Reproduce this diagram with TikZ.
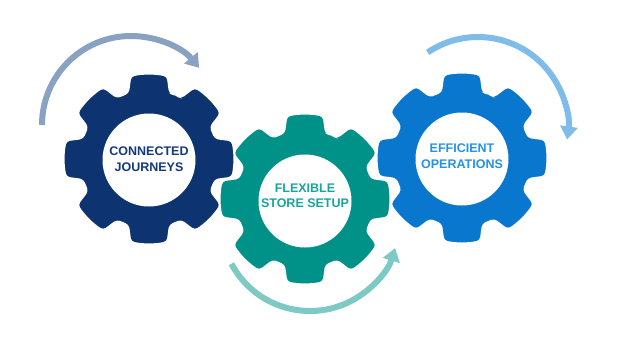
\documentclass[tikz,border=0pt]{standalone}
\usepackage{fontspec}
\setmainfont{Liberation Sans}
\usetikzlibrary{arrows.meta}
\definecolor{gNavy}{HTML}{0D3470}
\definecolor{gTeal}{HTML}{009289}
\definecolor{gBlue}{HTML}{0A77CF}
\definecolor{tNavy}{HTML}{15397A}
\definecolor{tTeal}{HTML}{17A59C}
\definecolor{tBlue}{HTML}{2592E6}
\definecolor{aGray}{HTML}{8AA2C2}
\definecolor{aTeal}{HTML}{7DC9C4}
\definecolor{aBlue}{HTML}{80BCEA}
\tikzset{
  gearbody/.style={draw=white, line width=1.5pt, rounded corners=3.5pt},
  hub/.style={circle, fill=white, minimum size=93pt, inner sep=0pt},
  hubtext/.style={align=center, font=\fontsize{12.5}{15.5}\selectfont\bfseries},
  turn/.style={line width=6pt, -{Triangle[width=17pt,length=13pt]}},
}
\newcommand{\gearpath}{%
  (67.5:69pt)
  \foreach \i in {0,...,7}{
    arc[start angle={67.5+45*\i}, end angle={72.5+45*\i}, radius=69pt]
    -- ({77.5+45*\i}:85pt)
    arc[start angle={77.5+45*\i}, end angle={102.5+45*\i}, radius=85pt]
    -- ({107.5+45*\i}:69pt)
    arc[start angle={107.5+45*\i}, end angle={112.5+45*\i}, radius=69pt]
  } -- cycle}
\begin{document}
\begin{tikzpicture}[x=1pt,y=1pt]
\useasboundingbox (0,0) rectangle (620,349);
\fill[white] (0,0) rectangle (620,349);
% arrows
\coordinate (c1) at (131,224);
\coordinate (c2) at (310,127);
\coordinate (c3) at (478,222);
\draw[turn, aGray] ([shift={(180:89pt)}]c1) arc[start angle=180, end angle=40, radius=89pt];
\draw[turn, aTeal] ([shift={(208:89pt)}]c2) arc[start angle=208, end angle=343, radius=89pt];
\draw[turn, aBlue] ([shift={(124:90pt)}]c3) arc[start angle=124, end angle=-8, radius=90pt];
% gears
\begin{scope}[shift={(149,190)}]
  \fill[gNavy, gearbody] \gearpath;
\end{scope}
\begin{scope}[shift={(462,191)}]
  \fill[gBlue, gearbody] \gearpath;
\end{scope}
\begin{scope}[shift={(305,150)}]
  \fill[gTeal, gearbody] \gearpath;
\end{scope}
\node[hub] (g1) at (149,189) {};
\node[hub] (g2) at (305,148) {};
\node[hub] (g3) at (462,190) {};
\node[hubtext, text=tNavy] at (149,190) {CONNECTED\\JOURNEYS};
\node[hubtext, text=tTeal] at (305,153) {FLEXIBLE\\STORE SETUP};
\node[hubtext, text=tBlue] at (462,193) {EFFICIENT\\OPERATIONS};
\end{tikzpicture}
\end{document}
